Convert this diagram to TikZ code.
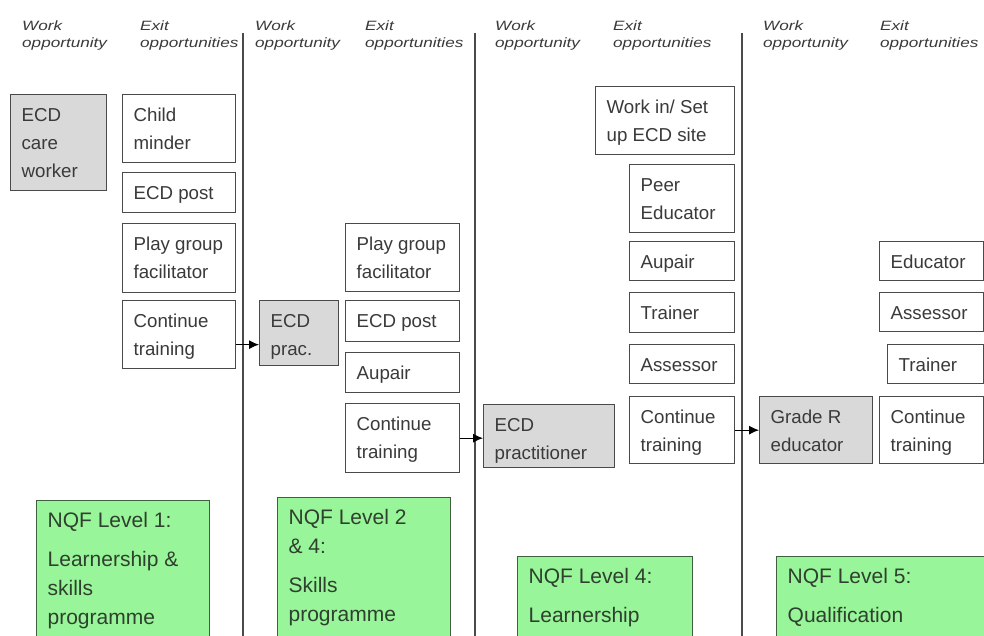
\documentclass[tikz,border=0pt]{standalone}
\usepackage{fontspec}
\setmainfont{Liberation Sans}
\usetikzlibrary{arrows.meta}

\definecolor{boxline}{HTML}{4A4A4A}
\definecolor{greyfill}{HTML}{D9D9D9}
\definecolor{greenfill}{HTML}{99F599}
\definecolor{greenline}{HTML}{3F5F3F}
\definecolor{ink}{HTML}{3A3A3A}
\definecolor{greenink}{HTML}{2E402E}

\tikzset{
  exitbox/.style={draw=boxline, line width=1.3pt, fill=white, text=ink,
    font=\fontsize{18.7}{28}\selectfont},
  workbox/.style={exitbox, fill=greyfill},
  nqfbox/.style={draw=greenline, line width=1.3pt, fill=greenfill, text=greenink,
    font=\fontsize{21}{29}\selectfont},
  divider/.style={draw=boxline, line width=1.2pt},
  header/.style={anchor=base west, inner sep=0pt, text=ink,
    font=\itshape\fontsize{13.5}{17}\selectfont},
  link/.style={-{Latex[length=10pt,width=9pt]}, line width=1pt, black},
}

% Box with its top-left corner at (x1,y1) and bottom-right at (x2,y2);
% text is set flush left from the top.
\newcommand\pbox[7]{%
  \pgfmathsetmacro\bw{#5-#3}\pgfmathsetmacro\bh{#6-#4}%
  \node[#1, anchor=north west, inner sep=0pt] (#2) at (#3,#4)
    {\parbox[t][\bh pt][t]{\bw pt}{\raggedright\hyphenpenalty=10000
      \leftskip=11pt\relax\rule{0pt}{27pt}#7}};}

% Two-line column heading
\newcommand\colhead[4]{%
  \node[header] (#1) at (#2,#3)
    {\scalebox{1.27}[1]{\vtop{\hbox{#4}\hbox{opportunit\ifnum\pdfstrcmp{#4}{Work}=0 y\else ies\fi}}}};}

\begin{document}
\begin{tikzpicture}[x=1pt, y=-1pt]
  \clip (0,0) rectangle (984,635);
  \fill[white] (0,0) rectangle (984,635);

  % column headings
  \colhead{hw1}{22}{30}{Work}
  \colhead{he1}{140}{30}{Exit}
  \colhead{hw2}{255}{30}{Work}
  \colhead{he2}{365}{30}{Exit}
  \colhead{hw3}{495}{30}{Work}
  \colhead{he3}{613}{30}{Exit}
  \colhead{hw4}{763}{30}{Work}
  \colhead{he4}{880}{30}{Exit}

  % dividers between the stages
  \coordinate (d1t) at (243,33); \coordinate (d1b) at (243,640);
  \coordinate (d2t) at (475,33); \coordinate (d2b) at (475,640);
  \coordinate (d3t) at (742,33); \coordinate (d3b) at (742,640);
  \draw[divider] (d1t) -- (d1b);
  \draw[divider] (d2t) -- (d2b);
  \draw[divider] (d3t) -- (d3b);

  % stage 1
  \pbox{workbox}{care}{10}{94}{106}{190}{ECD\\care\\worker}
  \pbox{exitbox}{child}{122}{94}{235}{162}{Child\\minder}
  \pbox{exitbox}{postA}{122}{172}{235}{212}{ECD post}
  \pbox{exitbox}{playA}{122}{223}{235}{292}{Play group\\facilitator}
  \pbox{exitbox}{contA}{122}{300}{235}{368}{Continue\\training}

  % stage 2
  \pbox{workbox}{prac}{259}{300}{338}{365}{ECD\\prac.}
  \pbox{exitbox}{playB}{345}{223}{459}{291}{Play group\\facilitator}
  \pbox{exitbox}{postB}{345}{300}{459}{341}{ECD post}
  \pbox{exitbox}{aupairB}{345}{352}{459}{392}{Aupair}
  \pbox{exitbox}{contB}{345}{403}{459}{472}{Continue\\training}

  % stage 3
  \pbox{workbox}{practitioner}{483}{404}{614}{467}{ECD\\practitioner}
  \pbox{exitbox}{site}{595}{86}{734}{154}{Work in/ Set\\up ECD site}
  \pbox{exitbox}{peer}{629}{164}{734}{232}{Peer\\Educator}
  \pbox{exitbox}{aupairC}{629}{241}{734}{280}{Aupair}
  \pbox{exitbox}{trainerC}{629}{292}{734}{332}{Trainer}
  \pbox{exitbox}{assessorC}{629}{344}{734}{383}{Assessor}
  \pbox{exitbox}{contC}{629}{396}{734}{463}{Continue\\training}

  % stage 4
  \pbox{workbox}{grader}{759}{396}{872}{463}{Grade R\\educator}
  \pbox{exitbox}{educator}{879}{241}{983}{280}{Educator}
  \pbox{exitbox}{assessorD}{879}{292}{983}{331}{Assessor}
  \pbox{exitbox}{trainerD}{887}{344}{983}{383}{Trainer}
  \pbox{exitbox}{contD}{879}{396}{983}{463}{Continue\\training}

  % progression arrows
  \draw[link] ([yshift=-10pt]contA.east) -- ([yshift=-10pt]contA.east -| prac.west);
  \draw[link] (contB.east) -- (contB.east -| practitioner.west);
  \draw[link] (contC.east) -- (contC.east -| grader.west);

  % qualification levels
  \pbox{nqfbox}{nqfA}{36}{500}{209}{645}{NQF Level 1:\\[10pt]Learnership \&\\skills\\programme}
  \pbox{nqfbox}{nqfB}{277}{497}{450}{645}{NQF Level 2\\\& 4:\\[10pt]Skills\\programme}
  \pbox{nqfbox}{nqfC}{517}{556}{692}{645}{NQF Level 4:\\[10pt]Learnership}
  \pbox{nqfbox}{nqfD}{776}{556}{1000}{645}{NQF Level 5:\\[10pt]Qualification}
\end{tikzpicture}
\end{document}
